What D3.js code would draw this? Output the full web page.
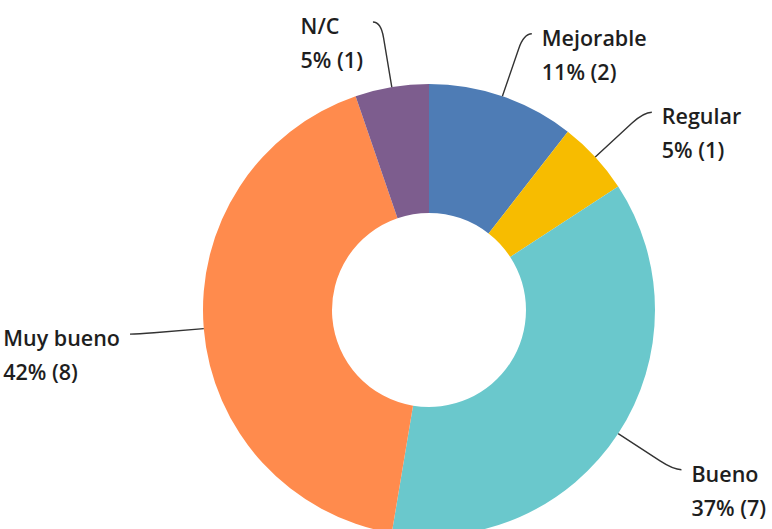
<!DOCTYPE html>
<html><head><meta charset="utf-8">
<script src="https://cdn.jsdelivr.net/npm/d3@7"></script>
<style>html,body{margin:0;padding:0;background:#fff;overflow:hidden}</style>
</head><body>
<svg id="chart" width="772" height="529"></svg>
<script>
const categories = ["Mejorable", "Regular", "Bueno", "Muy bueno", "N/C"];
const counts = [2, 1, 7, 8, 1];
const percentLabels = ["11%", "5%", "37%", "42%", "5%"];
const colors = ["#4e7cb5", "#f7bc00", "#6ac8cc", "#ff8b4d", "#7d5d8e"];

const W = 772, H = 529;
const cx = 429, cy = 310, rOuter = 226, rInner = 97;
const svg = d3.select("#chart");
const g = svg.append("g").attr("transform", `translate(${cx},${cy})`);

const data = categories.map((c, i) => ({ cat: c, n: counts[i], pct: percentLabels[i], color: colors[i] }));
const pie = d3.pie().value(d => d.n).sort(null);
const arc = d3.arc().innerRadius(rInner).outerRadius(rOuter);
const arcs = pie(data);

g.selectAll("path.slice").data(arcs).join("path")
  .attr("class", "slice")
  .attr("d", arc)
  .attr("fill", d => d.data.color);

const pt = (a, r) => [Math.sin(a) * r, -Math.cos(a) * r];

arcs.forEach(d => {
  const a = (d.startAngle + d.endAngle) / 2;
  const side = Math.sin(a) >= 0 ? 1 : -1;
  const p0 = pt(a, rOuter);
  const p1 = pt(a, rOuter + 50);
  const c = pt(a, rOuter + 66);
  const end = [c[0] + side * 8, c[1]];
  const path = d3.path();
  path.moveTo(p0[0], p0[1]);
  path.lineTo(p1[0], p1[1]);
  path.quadraticCurveTo(c[0], c[1], end[0], end[1]);
  g.append("path").attr("d", path.toString())
    .attr("fill", "none").attr("stroke", "#333").attr("stroke-width", 1.4);

  const t = g.append("text")
    .attr("font-family", "'Open Sans', sans-serif")
    .attr("font-weight", 600)
    .attr("font-size", 21.5)
    .attr("fill", "#1e1e1e");
  const l1 = t.append("tspan").text(d.data.cat);
  const l2 = t.append("tspan").text(`${d.data.pct} (${d.data.n})`);
  const w = Math.max(l1.node().getComputedTextLength(), l2.node().getComputedTextLength());
  const gap = 10;
  const x = side > 0 ? end[0] + gap : end[0] - gap - w;
  const y = end[1] + 12;
  l1.attr("x", x).attr("y", y);
  l2.attr("x", x).attr("y", y + 34);
});
</script>
</body></html>
